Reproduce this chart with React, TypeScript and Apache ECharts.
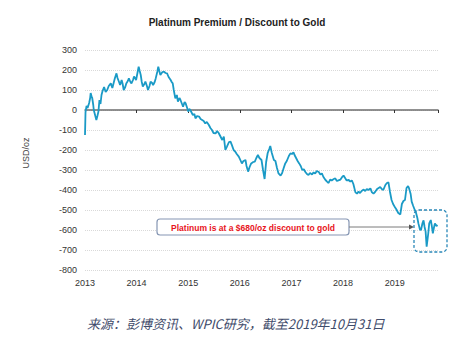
import React, { useEffect, useRef } from "react";
import * as echarts from "echarts";

const chartTitle = "Platinum Premium / Discount to Gold";
const yAxisName = "USD/oz";
const noteText = "Platinum is at a $680/oz discount to gold";
const sourceText = "来源：彭博资讯、WPIC研究，截至2019年10月31日";

const yearTicks = [2013, 2014, 2015, 2016, 2017, 2018, 2019];
const yTicks = [300, 200, 100, 0, -100, -200, -300, -400, -500, -600, -700, -800];

// [decimal year, USD/oz premium(+)/discount(-) of platinum to gold]
const points2013: [number, number][] = [
  [2013.0, -125], [2013.01, -10], [2013.03, 20], [2013.05, 10], [2013.08, 35], [2013.1, 60],
  [2013.11, 85], [2013.13, 65], [2013.14, 60], [2013.16, 25], [2013.17, 0], [2013.19, -20],
  [2013.22, -50], [2013.24, -30], [2013.26, -8], [2013.28, 50], [2013.3, 30], [2013.32, 75],
  [2013.34, 95], [2013.37, 115], [2013.4, 90], [2013.43, 100], [2013.46, 120], [2013.5, 133],
  [2013.53, 110], [2013.56, 140], [2013.58, 160], [2013.61, 183], [2013.63, 160], [2013.66, 140],
  [2013.68, 125], [2013.71, 150], [2013.73, 130], [2013.75, 100], [2013.78, 115], [2013.8, 133],
  [2013.83, 145], [2013.85, 158], [2013.88, 140], [2013.9, 133], [2013.93, 150], [2013.95, 167],
  [2013.97, 160], [2013.99, 150],
];
const points2014: [number, number][] = [
  [2014.02, 190], [2014.04, 217], [2014.06, 195], [2014.08, 175], [2014.1, 140], [2014.12, 117],
  [2014.15, 130], [2014.17, 142], [2014.2, 120], [2014.22, 100], [2014.25, 120], [2014.27, 142],
  [2014.3, 135], [2014.32, 125], [2014.35, 140], [2014.37, 158], [2014.4, 190], [2014.42, 217],
  [2014.44, 195], [2014.46, 175], [2014.5, 190], [2014.53, 192], [2014.56, 185], [2014.59, 183],
  [2014.62, 165], [2014.66, 150], [2014.68, 140], [2014.7, 133], [2014.72, 100], [2014.75, 58],
  [2014.78, 75], [2014.8, 42], [2014.83, 60], [2014.85, 50], [2014.88, 30], [2014.9, 17],
  [2014.93, 40], [2014.95, 33], [2014.98, 10],
];
const points2015: [number, number][] = [
  [2015.0, -8], [2015.02, 5], [2015.04, 0], [2015.07, -15], [2015.09, -25], [2015.12, -20],
  [2015.14, -42], [2015.17, -30], [2015.21, -33], [2015.24, -45], [2015.27, -50], [2015.3, -55],
  [2015.33, -67], [2015.36, -60], [2015.4, -75], [2015.43, -90], [2015.46, -100], [2015.49, -115],
  [2015.53, -117], [2015.56, -105], [2015.59, -115], [2015.62, -130], [2015.66, -150], [2015.69, -133],
  [2015.72, -200], [2015.75, -183], [2015.79, -160], [2015.82, -158], [2015.85, -178], [2015.88, -200],
  [2015.91, -208], [2015.94, -220], [2015.98, -233],
];
const points2016: [number, number][] = [
  [2016.01, -250], [2016.04, -267], [2016.07, -255], [2016.11, -250], [2016.13, -280], [2016.16, -308],
  [2016.19, -285], [2016.22, -267], [2016.26, -260], [2016.29, -258], [2016.32, -240], [2016.35, -225],
  [2016.38, -240], [2016.42, -250], [2016.45, -300], [2016.48, -345], [2016.51, -260], [2016.54, -215],
  [2016.57, -195], [2016.59, -180], [2016.62, -215], [2016.66, -250], [2016.69, -255], [2016.72, -290],
  [2016.75, -317], [2016.79, -328], [2016.82, -315], [2016.85, -290], [2016.88, -267], [2016.91, -255],
  [2016.95, -230], [2016.98, -217],
];
const points2017: [number, number][] = [
  [2017.01, -220], [2017.04, -212], [2017.06, -225], [2017.09, -240], [2017.12, -255], [2017.15, -267],
  [2017.18, -280], [2017.21, -300], [2017.24, -296], [2017.27, -310], [2017.3, -320], [2017.33, -325],
  [2017.36, -315], [2017.4, -322], [2017.43, -312], [2017.46, -318], [2017.49, -305], [2017.53, -310],
  [2017.56, -322], [2017.59, -317], [2017.62, -335], [2017.66, -350], [2017.69, -358], [2017.72, -365],
  [2017.75, -348], [2017.78, -352], [2017.82, -345], [2017.85, -342], [2017.88, -355], [2017.91, -352],
  [2017.95, -348], [2017.98, -336],
];
const points2018: [number, number][] = [
  [2018.01, -328], [2018.04, -340], [2018.07, -352], [2018.11, -350], [2018.14, -358], [2018.17, -352],
  [2018.2, -370], [2018.24, -412], [2018.27, -418], [2018.3, -408], [2018.33, -415], [2018.36, -405],
  [2018.4, -398], [2018.43, -405], [2018.46, -395], [2018.49, -400], [2018.53, -392], [2018.56, -412],
  [2018.59, -418], [2018.62, -410], [2018.66, -395], [2018.69, -390], [2018.72, -385], [2018.75, -395],
  [2018.78, -400], [2018.82, -375], [2018.85, -365], [2018.88, -362], [2018.91, -410], [2018.94, -450],
  [2018.97, -470],
];
const points2019: [number, number][] = [
  [2019.01, -488], [2019.04, -500], [2019.07, -515], [2019.11, -522], [2019.14, -470], [2019.17, -455],
  [2019.2, -450], [2019.23, -390], [2019.26, -380], [2019.28, -392], [2019.31, -420], [2019.33, -458],
  [2019.36, -480], [2019.39, -500], [2019.41, -510], [2019.44, -540], [2019.46, -567], [2019.49, -598],
  [2019.51, -600], [2019.54, -565], [2019.56, -552], [2019.58, -585], [2019.6, -608], [2019.62, -683],
  [2019.65, -620], [2019.67, -567], [2019.7, -550], [2019.72, -580], [2019.74, -617], [2019.76, -590],
  [2019.78, -567], [2019.81, -580], [2019.83, -575],
];

const FONT = "'Liberation Sans', Arial, sans-serif";

export default function App() {
  const ref = useRef<HTMLDivElement>(null);
  useEffect(() => {
    if (!ref.current) return;
    const chart = echarts.init(ref.current, undefined, { renderer: "svg" });
    const series = [
      ...points2013, ...points2014, ...points2015, ...points2016,
      ...points2017, ...points2018, ...points2019,
    ];
    const xMin = yearTicks[0];
    const xMax = 2019.84;
    chart.setOption({
      animation: false,
      backgroundColor: "#ffffff",
      title: {
        text: chartTitle,
        left: 232,
        top: 12,
        textAlign: "center",
        textStyle: { fontFamily: FONT, fontSize: 10, fontWeight: "bold", color: "#222" },
      },
      grid: { left: 85, right: 16, top: 50, bottom: 84 },
      xAxis: [
        {
          type: "value",
          min: xMin,
          max: xMax,
          interval: 1,
          position: "bottom",
          axisLine: { show: false, onZero: false },
          axisTick: { show: false },
          splitLine: { show: false },
          axisLabel: {
            margin: 8,
            fontFamily: FONT,
            fontSize: 9,
            color: "#333",
            formatter: (v: number) => (yearTicks.includes(v) ? String(v) : ""),
          },
        },
        {
          type: "value",
          min: xMin,
          max: xMax,
          interval: 1,
          position: "bottom",
          axisLine: { show: true, onZero: true, lineStyle: { color: "#6e6e6e", width: 1.5 } },
          axisTick: { show: true, length: 3, inside: false, lineStyle: { color: "#333", width: 1 } },
          axisLabel: { show: false },
          splitLine: { show: false },
        },
      ],
      yAxis: {
        type: "value",
        min: yTicks[yTicks.length - 1],
        max: yTicks[0],
        interval: 100,
        axisLine: { show: false },
        axisTick: { show: false },
        axisLabel: { margin: 8, fontFamily: FONT, fontSize: 9, color: "#333" },
        splitLine: { show: true, lineStyle: { color: "#d9d9d9", type: "dotted", width: 1 } },
      },
      series: [
        {
          type: "line",
          xAxisIndex: 0,
          data: series,
          showSymbol: false,
          symbol: "none",
          lineStyle: { color: "#1a9ac6", width: 1.8 },
          z: 3,
        },
      ],
      graphic: [
        {
          type: "text",
          x: 26,
          y: 153,
          rotation: Math.PI / 2,
          style: {
            text: yAxisName,
            fontFamily: FONT,
            fontSize: 9,
            fill: "#444",
            align: "center",
            verticalAlign: "middle",
          },
        },
        {
          type: "rect",
          shape: { x: 157, y: 219, width: 192, height: 16, r: 3 },
          style: { fill: "#ffffff", stroke: "#8596b3", lineWidth: 1.2 },
          z: 10,
        },
        {
          type: "text",
          x: 253,
          y: 227.5,
          style: {
            text: noteText,
            fontFamily: FONT,
            fontSize: 8.5,
            fontWeight: "bold",
            fill: "#e8141c",
            align: "center",
            verticalAlign: "middle",
          },
          z: 11,
        },
        {
          type: "line",
          shape: { x1: 349, y1: 227, x2: 409, y2: 227 },
          style: { stroke: "#7a7a7a", lineWidth: 1 },
          z: 10,
        },
        {
          type: "polygon",
          shape: { points: [[409, 224.5], [414, 227], [409, 229.5]] },
          style: { fill: "#555" },
          z: 10,
        },
        {
          type: "rect",
          shape: { x: 414, y: 210, width: 33, height: 42, r: 5 },
          style: { fill: "none", stroke: "#2a88b8", lineWidth: 1.3, lineDash: [3, 2] },
          z: 10,
        },
        {
          type: "text",
          x: 87,
          y: 323,
          style: {
            text: sourceText,
            fontFamily: "'Noto Sans CJK SC', sans-serif",
            fontSize: 13,
            fontStyle: "italic",
            fill: "#3f4c6b",
            align: "left",
            verticalAlign: "middle",
          },
        },
      ],
    });
    return () => chart.dispose();
  }, []);
  return <div ref={ref} style={{ width: 454, height: 354, position: "absolute", left: 0, top: 0 }} />;
}
